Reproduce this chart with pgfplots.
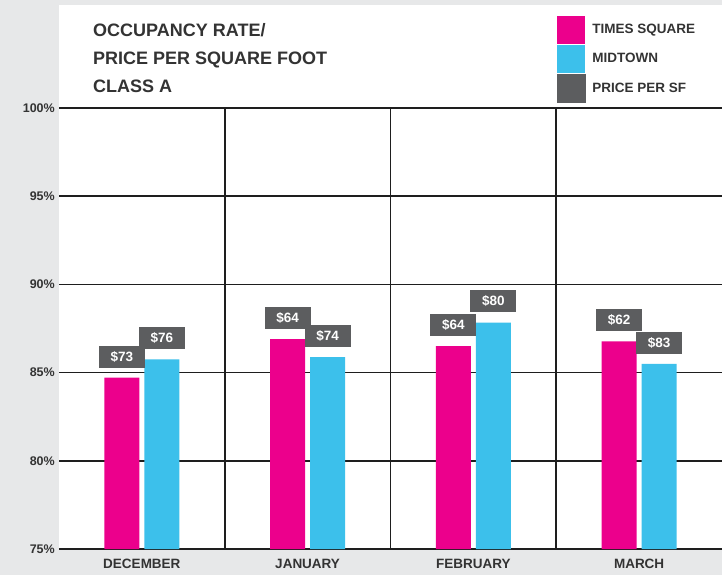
\documentclass[border=0pt]{standalone}
\usepackage{pgfplots}
\pgfplotsset{compat=1.18}
\usepackage{fontspec}
\setmainfont{Liberation Sans}
\definecolor{bggray}{HTML}{E7E8E9}
\definecolor{magentaC}{HTML}{EC008C}
\definecolor{cyanC}{HTML}{3CC0EB}
\definecolor{boxgray}{HTML}{5C5D5F}
\definecolor{txtgray}{HTML}{333333}
\definecolor{gridblack}{HTML}{1E1E1E}
\begin{document}
\begin{tikzpicture}
\useasboundingbox (0,0) rectangle (722pt,575pt);
\fill[bggray] (0,0) rectangle (722pt,575pt);
\fill[white] (59pt,26pt) rectangle (722pt,570pt);
\begin{axis}[
  at={(59pt,26pt)}, anchor=south west,
  scale only axis, width=663pt, height=441pt,
  xmin=-0.5, xmax=3.5, ymin=75, ymax=100,
  axis line style={draw=none},
  ybar=5pt, bar width=35pt,
  xtick={0,1,2,3},
  xticklabels={DECEMBER,JANUARY,FEBRUARY,MARCH},
  ytick={75,80,85,90,95,100},
  yticklabels={75\%,80\%,85\%,90\%,95\%,100\%},
  major tick length=0pt, minor tick length=0pt,
  minor xtick={0.5,1.5,2.5},
  ymajorgrids, xminorgrids,
  major grid style={gridblack, line width=1.6pt},
  minor grid style={gridblack, line width=1.6pt},
  xticklabel style={font=\bfseries\fontsize{13.5}{13.5}\selectfont, text=txtgray, inner sep=0pt, anchor=north, yshift=-10pt},
  yticklabel style={font=\bfseries\fontsize{12.5}{12.5}\selectfont, text=txtgray, inner sep=0pt, anchor=east, xshift=-4pt},
  nodes near coords,
  point meta=explicit symbolic,
  every node near coord/.append style={fill=boxgray, text=white, font=\bfseries\fontsize{13.5}{13.5}\selectfont, minimum width=46pt, minimum height=22pt, inner sep=0pt, anchor=south, yshift=10pt},
  legend style={at={(0.751,1.2086)}, anchor=north west, draw=none, fill=none, inner sep=0pt, outer sep=0pt, row sep=1pt, column sep=7pt, font=\bfseries\fontsize{13.5}{13.5}\selectfont, text=txtgray, nodes={inner sep=0pt}},
  legend cell align=left,
]
\addplot[fill=magentaC, draw=none, legend image code/.code={\fill[magentaC] (0pt,-14pt) rectangle (28pt,14pt);}]
  coordinates {(0,84.71) [\$73] (1,86.90) [\$64] (2,86.50) [\$64] (3,86.77) [\$62]};
\addplot[fill=cyanC, draw=none, legend image code/.code={\fill[cyanC] (0pt,-14pt) rectangle (28pt,14pt);}]
  coordinates {(0,85.75) [\$76] (1,85.88) [\$74] (2,87.83) [\$80] (3,85.49) [\$83]};
\addlegendimage{legend image code/.code={\fill[boxgray] (0pt,-14pt) rectangle (28pt,14pt);}}
\legend{TIMES SQUARE, MIDTOWN, PRICE PER SF}
\end{axis}
\node[anchor=base west, inner sep=0pt, text=txtgray, font=\bfseries\fontsize{18}{18}\selectfont] at (93pt,538.5pt) {OCCUPANCY RATE/};
\node[anchor=base west, inner sep=0pt, text=txtgray, font=\bfseries\fontsize{18}{18}\selectfont] at (93pt,510.5pt) {PRICE PER SQUARE FOOT};
\node[anchor=base west, inner sep=0pt, text=txtgray, font=\bfseries\fontsize{18}{18}\selectfont] at (93pt,482.5pt) {CLASS A};
\end{tikzpicture}
\end{document}
